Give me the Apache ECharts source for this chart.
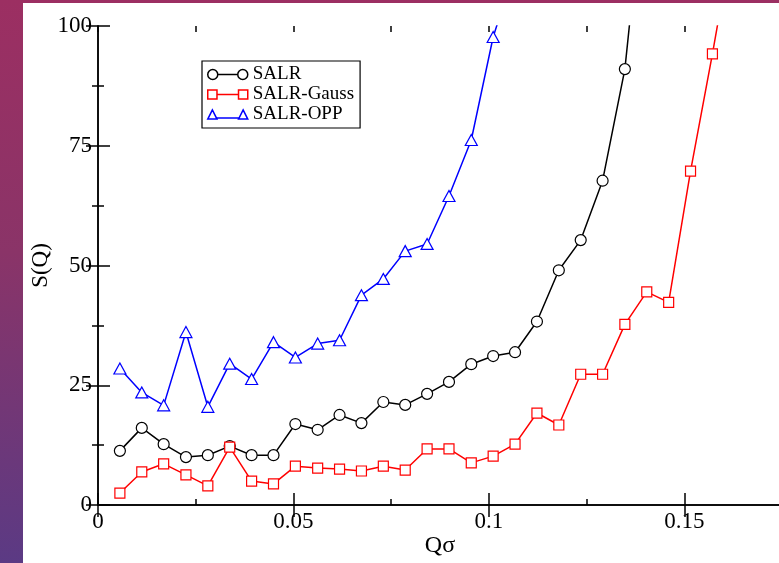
<!DOCTYPE html>
<html>
<head>
<meta charset="utf-8">
<script src="https://cdn.jsdelivr.net/npm/echarts@6/dist/echarts.min.js"></script>
<style>
  html, body { margin: 0; padding: 0; width: 779px; height: 563px; overflow: hidden; }
  body { background: linear-gradient(to bottom, #9c2f62 0%, #8a3468 45%, #5b3a84 100%); position: relative; }
  #chart { position: absolute; left: 23px; top: 3px; width: 756px; height: 560px; background: #ffffff; }
</style>
</head>
<body>
<div id="chart"></div>
<script>
// Q sigma values (x positions of the sampled wave vectors)
const qValues = [0.0056, 0.0112, 0.0168, 0.0225, 0.0281, 0.0337, 0.0393, 0.0449, 0.0505, 0.0562,
                 0.0618, 0.0674, 0.0730, 0.0786, 0.0842, 0.0898, 0.0955, 0.1011, 0.1067, 0.1123,
                 0.1179, 0.1235, 0.1291, 0.1348, 0.1404, 0.1460, 0.1516, 0.1572, 0.1628];

const seriesNames = ['SALR', 'SALR-Gauss', 'SALR-OPP'];

const salr = [11.3, 16.1, 12.7, 10.0, 10.4, 12.3, 10.4, 10.4, 16.9, 15.7,
              18.8, 17.1, 21.5, 20.9, 23.2, 25.7, 29.4, 31.1, 31.9, 38.3,
              49.0, 55.3, 67.7, 91.0, 135];
const salrGauss = [2.5, 6.9, 8.6, 6.3, 4.0, 12.1, 5.0, 4.4, 8.1, 7.7,
                   7.5, 7.1, 8.1, 7.3, 11.7, 11.7, 8.8, 10.2, 12.7, 19.2,
                   16.7, 27.3, 27.3, 37.7, 44.5, 42.3, 69.7, 94.2, 120];
const salrOpp = [28.5, 23.5, 20.8, 36.1, 20.5, 29.5, 26.3, 34.0, 30.8, 33.7,
                 34.4, 43.8, 47.2, 53.0, 54.5, 64.5, 76.2, 97.7, 112];

const xTicks = [0, 0.05, 0.1, 0.15];
const yTicks = [0, 25, 50, 75, 100];

const colors = ['#000000', '#ff0000', '#0000ff'];
const symbols = ['circle', 'rect', 'triangle'];
const symbolSizes = [11, 10, [12, 11]];
const legendIcons = [
  'path://M0,5A5,5,0,1,1,10,5A5,5,0,1,1,0,5ZM10,5L30,5M30,5A5,5,0,1,1,40,5A5,5,0,1,1,30,5Z',
  'path://M0.5,0.5H9.5V9.5H0.5ZM9.5,5L30.5,5M30.5,0.5H39.5V9.5H30.5Z',
  'path://M0.5,9.5L5,0.5L9.5,9.5ZM9.5,8.5L30.5,8.5M30.5,9.5L35,0.5L39.5,9.5Z'
];

const FONT = 'Liberation Serif';
const chart = echarts.init(document.getElementById('chart'), null, { renderer: 'canvas' });

function pairs(vals) { return vals.map((v, i) => [qValues[i], v]); }
const allData = [salr, salrGauss, salrOpp];

const lineAxis = { show: true, lineStyle: { color: '#000', width: 1.5 } };

const xMajor = (pos, labels) => ({
  type: 'value', position: pos, min: 0, max: 0.175, interval: 0.05,
  axisLine: lineAxis,
  axisTick: { show: true, inside: true, length: 12, lineStyle: { color: '#000', width: 1.5 } },
  axisLabel: labels ? { show: true, showMaxLabel: false, margin: 5, color: '#000', fontFamily: FONT, fontSize: 23,
    formatter: v => (xTicks.indexOf(+v.toFixed(3)) >= 0 ? String(+v.toFixed(3)) : '') } : { show: false },
  splitLine: { show: false },
  name: labels ? 'Qσ' : '', nameLocation: 'middle', nameGap: 29, nameMoveOverlap: false,
  nameTextStyle: { color: '#000', fontFamily: FONT, fontSize: 24 }
});
const xMinor = (pos) => ({
  type: 'value', position: pos, min: 0, max: 0.175, interval: 0.025,
  axisLine: { show: false },
  axisTick: { show: true, inside: true, length: 6, lineStyle: { color: '#000', width: 1.5 } },
  axisLabel: { show: false }, splitLine: { show: false }
});
const yAxisDef = (pos, labels) => ({
  type: 'value', position: pos, min: 0, max: 100, interval: 25,
  axisLine: lineAxis,
  axisTick: { show: true, inside: true, length: 12, lineStyle: { color: '#000', width: 1.5 } },
  minorTick: { show: true, splitNumber: 2, length: 6, lineStyle: { color: '#000', width: 1.5 } },
  axisLabel: labels ? { show: true, margin: 6, color: '#000', fontFamily: FONT, fontSize: 23 } : { show: false },
  splitLine: { show: false }, minorSplitLine: { show: false },
  name: labels ? 'S(Q)' : '', nameLocation: 'middle', nameGap: 46, nameMoveOverlap: false,
  nameTextStyle: { color: '#000', fontFamily: FONT, fontSize: 23 }
});

const option = {
  animation: false,
  backgroundColor: '#ffffff',
  grid: { left: 75, top: 23, right: -3, bottom: 58, containLabel: false, outerBoundsMode: 'none' },
  xAxis: [xMajor('bottom', true), xMajor('top', false), xMinor('bottom'), xMinor('top')],
  yAxis: [yAxisDef('left', true), yAxisDef('right', false)],
  legend: {
    orient: 'vertical', left: 179, top: 58,
    padding: [4, 6, 4, 5], itemGap: 1,
    itemWidth: 40, itemHeight: 10,
    backgroundColor: '#fff', borderColor: '#000', borderWidth: 1.2, borderRadius: 0,
    textStyle: { color: '#000', fontFamily: FONT, fontSize: 19 },
    data: seriesNames.map((n, i) => ({
      name: n, icon: legendIcons[i],
      itemStyle: { color: 'rgba(0,0,0,0)', borderColor: colors[i], borderWidth: 1.5 }
    }))
  },
  series: seriesNames.map((n, i) => ({
    name: n, type: 'line', xAxisIndex: 0, yAxisIndex: 0,
    data: pairs(allData[i]),
    clip: true,
    symbol: symbols[i], symbolSize: symbolSizes[i], showAllSymbol: true,
    lineStyle: { color: colors[i], width: 1.5 },
    itemStyle: { color: '#fff', borderColor: colors[i], borderWidth: 1.2 },
    emphasis: { disabled: true }
  }))
};
chart.setOption(option);
</script>
</body>
</html>
